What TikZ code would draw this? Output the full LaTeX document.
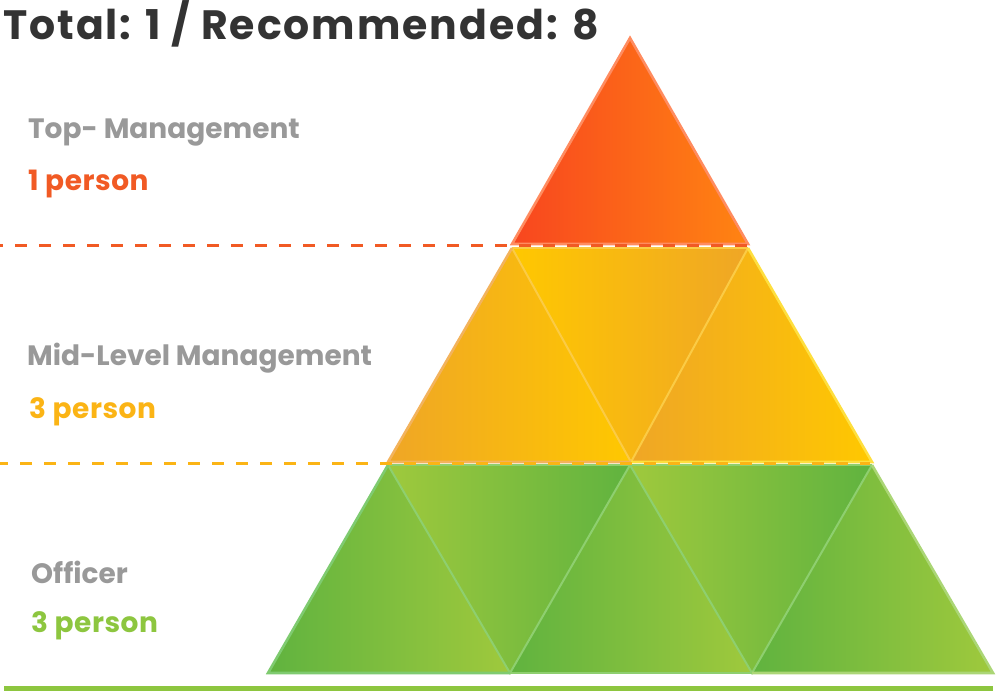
\documentclass[tikz,border=0pt]{standalone}
\usepackage{fontspec}
\setmainfont{Poppins}
\definecolor{titlegrey}{HTML}{333333}
\definecolor{labelgrey}{HTML}{999999}
\definecolor{toporange}{HTML}{F15A24}
\definecolor{midyellow}{HTML}{FBB415}
\definecolor{lowgreen}{HTML}{8DC63F}
% tier fills
\definecolor{redA}{HTML}{F8461F}
\definecolor{redB}{HTML}{FF8412}
\definecolor{redEdge}{HTML}{FF8C60}
\definecolor{ambA}{HTML}{EFA626}
\definecolor{ambB}{HTML}{FFC800}
\definecolor{ambEdgeL}{HTML}{F3B35C}
\definecolor{ambEdge}{HTML}{FBCB45}
\definecolor{ambEdgeR}{HTML}{FEDF3F}
\definecolor{grnA}{HTML}{60B33F}
\definecolor{grnB}{HTML}{9FC93D}
\definecolor{grnEdgeL}{HTML}{7FCB70}
\definecolor{grnEdge}{HTML}{8ECF6F}
\definecolor{grnEdgeR}{HTML}{ABD676}
\tikzset{
  tiertitle/.style={anchor=base west, inner sep=0pt, font=\fontsize{41}{41}\selectfont\bfseries\addfontfeature{LetterSpace=4.8}, text=titlegrey},
  tiername/.style={anchor=base west, inner sep=0pt, font=\fontsize{28}{28}\selectfont\bfseries, text=labelgrey},
  tiercount/.style={anchor=base west, inner sep=0pt, font=\fontsize{28}{28}\selectfont\bfseries\addfontfeature{LetterSpace=2}},
  edge/.style={line width=2.6pt, line join=miter},
  divider/.style={line width=3pt, dash pattern=on 12pt off 12pt},
}
\begin{document}
\begin{tikzpicture}[x=1pt,y=-1pt]
\useasboundingbox (0,0) rectangle (996,691);
\fill[white] (0,0) rectangle (996,691);

% ---- top tier ----
\shade[left color=redA, right color=redB] (630,38) -- (512,244) -- (748,244) -- cycle;
\draw[edge, redEdge] (630,38) -- (512,244) -- (748,244) -- cycle;

% ---- middle tier ----
\shade[left color=ambA, right color=ambB] (512,248) -- (388,462) -- (631,462) -- cycle;
\shade[left color=ambB, right color=ambA] (512,248) -- (748,248) -- (631,462) -- cycle;
\shade[left color=ambA, right color=ambB] (748,248) -- (631,462) -- (872,462) -- cycle;
\draw[edge, ambEdge, line width=2pt] (512,248) -- (631,462) -- (748,248);
\draw[edge, ambEdge] (512,248) -- (748,248);
\draw[edge, ambEdgeL] (512,248) -- (388,462) -- (631,462);
\draw[edge, ambEdgeR] (748,248) -- (872,462) -- (631,462);

% ---- bottom tier ----
\shade[left color=grnA, right color=grnB] (388,465) -- (268,673) -- (510,673) -- cycle;
\shade[left color=grnB, right color=grnA] (388,465) -- (630,465) -- (510,673) -- cycle;
\shade[left color=grnA, right color=grnB] (630,465) -- (510,673) -- (752,673) -- cycle;
\shade[left color=grnB, right color=grnA] (630,465) -- (872,465) -- (752,673) -- cycle;
\shade[left color=grnA, right color=grnB] (872,465) -- (752,673) -- (993,673) -- cycle;
\draw[edge, grnEdge, line width=2pt] (388,465) -- (510,673) -- (630,465) -- (752,673) -- (872,465);
\draw[edge, grnEdge] (388,465) -- (872,465);
\draw[edge, grnEdgeL] (388,465) -- (268,673) -- (510,673);
\draw[edge, grnEdge] (510,673) -- (752,673);
\draw[edge, grnEdgeR] (872,465) -- (993,673) -- (752,673);

% ---- tier dividers and ground line ----
\coordinate (divTopL) at (0,245);
\coordinate (divTopR) at (748,245);
\coordinate (divMidL) at (0,463.5);
\coordinate (divMidR) at (870,463.5);
\coordinate (groundL) at (4,688.5);
\coordinate (groundR) at (993,688.5);
\draw[divider, toporange, dash phase=9pt] (divTopL) -- (divTopR);
\draw[divider, midyellow, dash phase=4pt] (divMidL) -- (divMidR);
\draw[lowgreen, line width=5pt] (groundL) -- (groundR);

% ---- texts ----
\node[tiertitle] (total) at (3,39) {Total: 1 / Recommended: 8};
\node[tiername] (topname) at (28,138) {Top- Management};
\node[tiercount, text=toporange] (topcount) at (28,190) {1 person};
\node[tiername] (midname) at (27,365) {Mid-Level Management};
\node[tiercount, text=midyellow] (midcount) at (29,418) {3 person};
\node[tiername] (lowname) at (31,583) {Officer};
\node[tiercount, text=lowgreen] (lowcount) at (31,632) {3 person};
\end{tikzpicture}
\end{document}
